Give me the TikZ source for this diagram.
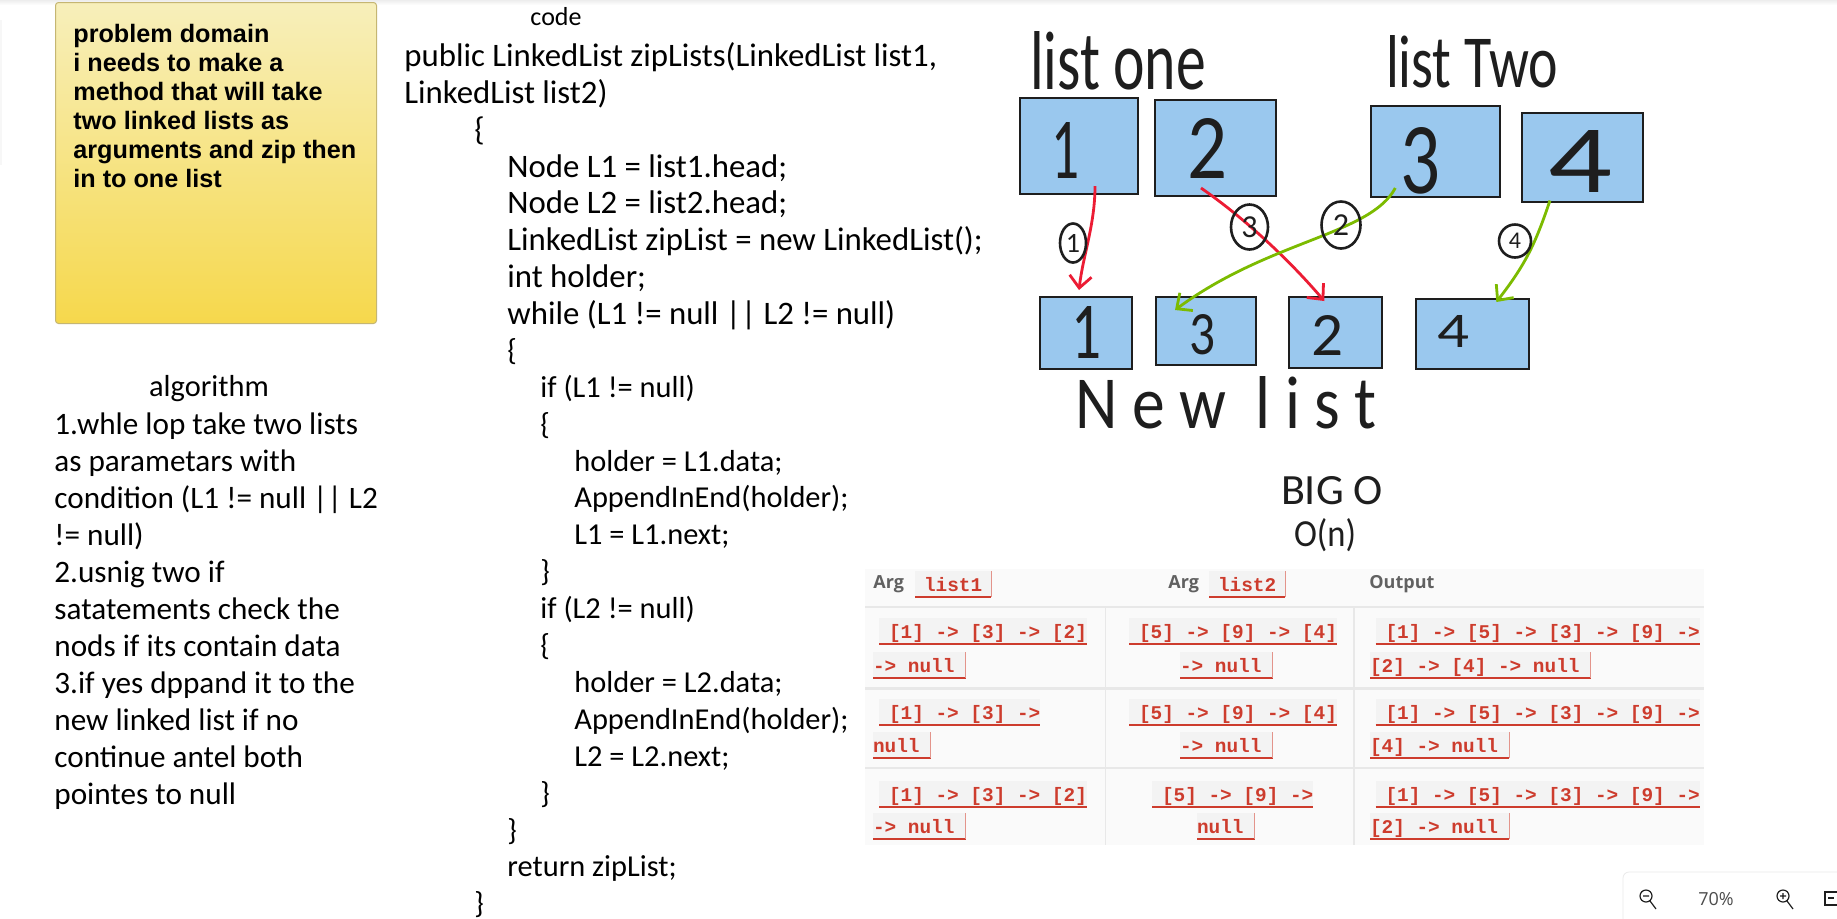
\documentclass[tikz,border=0pt]{standalone}
\usepackage{fontspec}
\usepackage{graphicx}
\usetikzlibrary{arrows.meta,shapes.geometric}
\setmainfont{Carlito}
\newfontfamily\notefont{Liberation Sans}
\newfontfamily\chipfont{Liberation Mono}
\newfontfamily\headfont{Open Sans}
\definecolor{boxblue}{RGB}{154,200,238}
\definecolor{inkblack}{RGB}{30,30,30}
\definecolor{arrowred}{RGB}{236,28,52}
\definecolor{arrowgreen}{RGB}{124,187,0}
\definecolor{chipred}{RGB}{205,60,45}
\definecolor{chipbg}{RGB}{243,243,243}
\definecolor{tablebg}{RGB}{250,250,250}
\definecolor{tableline}{RGB}{232,232,232}
\definecolor{notetop}{RGB}{247,239,187}
\definecolor{notebottom}{RGB}{246,216,76}
\tikzset{
  listbox/.style={draw=inkblack,line width=1pt,fill=boxblue,inner sep=0pt,outer sep=0pt},
  handtext/.style={text=inkblack,inner sep=0pt,outer sep=0pt},
  countmark/.style={ellipse,draw=inkblack,line width=1.3pt,inner sep=0pt,text=inkblack},
  redlink/.style={arrowred,line width=1.4pt,-{Straight Barb[length=6pt,width=11pt]}},
  greenlink/.style={arrowgreen,line width=1.4pt,-{Straight Barb[length=6pt,width=11pt]}},
  notetext/.style={anchor=north west,align=left,inner sep=0pt,text=black},
  chip/.style={anchor=north west,fill=chipbg,text=chipred,inner xsep=0pt,inner ysep=0pt,outer sep=0pt,
    font=\chipfont\bfseries\fontsize{9.7}{12}\selectfont,text height=10pt,text depth=3pt},
  chipfirst/.style={chip,execute at begin node=\hspace*{5pt}},
  chiplast/.style={chip,execute at end node=\hspace*{5.5pt}},
  chipboth/.style={chip,execute at begin node=\hspace*{4.5pt},execute at end node=\hspace*{4.5pt}},
  headlabel/.style={anchor=base west,inner sep=0pt,text=black!62,font=\headfont\bfseries\fontsize{9}{11}\selectfont}
}
\begin{document}
\begin{tikzpicture}[x=0.5pt,y=-0.5pt]
    \useasboundingbox (0,0) rectangle (1837,918);
    \fill[white] (0,0) rectangle (1837,918);
    \shade[top color=black!7,bottom color=white] (0,0) rectangle (1837,5);
    \fill[black!3] (0,20) rectangle (2,165);

    % problem box
    \node[draw=notebottom!70!black!70,line width=0.5pt,rounded corners=1.5pt,top color=notetop,bottom color=notebottom,
        minimum width=160.5pt,minimum height=160.5pt,anchor=north west,inner sep=0pt] (problembox) at (55,2) {};
    \node[notetext,font=\notefont\bfseries\fontsize{12.6}{14.45}\selectfont] (problemtext) at (73,24)
        {problem domain\\i needs to make a\\method that will take\\two linked lists as\\arguments and zip then\\in to one list};

    % algorithm
    \node[text=black,inner sep=0pt,font=\fontsize{15.2}{17}\selectfont] (algotitle) at (209,389) {algorithm};
    \node[notetext,font=\fontsize{15.6}{18.5}\selectfont] (algotext) at (54,412)
        {1.whle lop take two lists\\as parametars with\\condition (L1 != null || L2\\!= null)\\2.usnig two if\\satatements check the\\nods if its contain data\\3.if yes dppand it to the\\new linked list if no\\continue antel both\\pointes to null};

    % code
    \node[text=black,inner sep=0pt,font=\fontsize{13}{15}\selectfont] (codetitle) at (556,17) {code};
    \node[notetext,font=\fontsize{16.4}{18.45}\selectfont] (codehead) at (404,42)
        {public LinkedList zipLists(LinkedList list1,\\LinkedList list2)\\
        \hspace*{35pt}\{\\
        \hspace*{51.5pt}Node L1 = list1.head;\\
        \hspace*{51.5pt}Node L2 = list2.head;\\
        \hspace*{51.5pt}LinkedList zipList = new LinkedList();\\
        \hspace*{51.5pt}int holder;\\
        \hspace*{51.5pt}while (L1 != null || L2 != null)};
    \node[notetext,font=\fontsize{15.2}{18.45}\selectfont] (codebody) at (474,338)
        {\hspace*{16.5pt}\{\\
        \hspace*{33pt}if (L1 != null)\\
        \hspace*{33pt}\{\\
        \hspace*{50pt}holder = L1.data;\\
        \hspace*{50pt}AppendInEnd(holder);\\
        \hspace*{50pt}L1 = L1.next;\\
        \hspace*{33pt}\}\\
        \hspace*{33pt}if (L2 != null)\\
        \hspace*{33pt}\{\\
        \hspace*{50pt}holder = L2.data;\\
        \hspace*{50pt}AppendInEnd(holder);\\
        \hspace*{50pt}L2 = L2.next;\\
        \hspace*{33pt}\}\\
        \hspace*{16.5pt}\}\\
        \hspace*{16.5pt}return zipList;\\
        \}};

    % lists
    \node[handtext] (listonelabel) at (1118,61) {\resizebox{88pt}{29pt}{list one}};
    \node[handtext] (listtwolabel) at (1472,62) {\resizebox{86pt}{26pt}{list Two}};
    \node[handtext] (newlistlabel) at (1226,403) {\resizebox{150pt}{26pt}{\addfontfeature{LetterSpace=22}New list}};

    \node[listbox,minimum width=59pt,minimum height=48pt] (one) at (1079.4,146) {};
    \node[listbox,minimum width=60.5pt,minimum height=48pt] (two) at (1215.5,148) {};
    \node[listbox,minimum width=64.5pt,minimum height=45.5pt] (three) at (1435.3,151.5) {};
    \node[listbox,minimum width=60.75pt,minimum height=44.5pt] (four) at (1582.7,157.5) {};
    \node[listbox,minimum width=45.75pt,minimum height=36pt] (newone) at (1085.75,333) {};
    \node[listbox,minimum width=49.75pt,minimum height=34pt] (newthree) at (1205.75,331) {};
    \node[listbox,minimum width=46.75pt,minimum height=35.5pt] (newtwo) at (1335.25,332.5) {};
    \node[listbox,minimum width=56.65pt,minimum height=35pt] (newfour) at (1472.35,334) {};

    \node[handtext] (oneval) at (1065,150) {\resizebox{14pt}{28pt}{1}};
    \node[handtext] (twoval) at (1207,148) {\resizebox{20pt}{30pt}{2}};
    \node[handtext] (threeval) at (1420,161) {\resizebox{20pt}{33pt}{3}};
    \node[handtext] (fourval) at (1580,161) {\resizebox{32pt}{31pt}{4}};
    \node[handtext] (newoneval) at (1086,332) {\resizebox{15pt}{26pt}{1}};
    \node[handtext] (newthreeval) at (1202,335) {\resizebox{13pt}{20pt}{3}};
    \node[handtext] (newtwoval) at (1327,335) {\resizebox{16pt}{20pt}{2}};
    \node[handtext] (newfourval) at (1453,331) {\resizebox{16pt}{16pt}{4}};

    \draw[redlink] ([shift={(15.6,40)}]one.center) .. controls (1095,225) and (1083,255) .. ([shift={(-6.75,-7)}]newone.north);
    \draw[redlink] ([shift={(-14.5,40)}]two.center) .. controls (1240,215) and (1285,255) .. ([shift={(-11,4)}]newtwo.north);
    \draw[greenlink] ([shift={(-40,36.5)}]three.center) .. controls (1370,235) and (1270,240) .. ([shift={(-30.75,13)}]newthree.north);
    \draw[greenlink] ([shift={(-32.75,43)}]four.center) .. controls (1535,245) and (1525,265) .. ([shift={(24,3)}]newfour.north);

    \node[countmark,minimum width=13pt,minimum height=19.5pt,font=\fontsize{14}{16}\selectfont] (markone) at (1073,243) {1};
    \node[countmark,minimum width=18.5pt,minimum height=22.5pt,font=\fontsize{16}{18}\selectfont] (markthree) at (1249.5,227) {3};
    \node[countmark,minimum width=19.5pt,minimum height=23.5pt,font=\fontsize{16}{18}\selectfont] (marktwo) at (1341,225) {2};
    \node[countmark,minimum width=16pt,minimum height=16.5pt,font=\fontsize{12}{14}\selectfont] (markfour) at (1515,241) {4};

    % big o
    \node[handtext] (bigolabel) at (1332,491) {\resizebox{51pt}{14pt}{BIG O}};
    \node[handtext] (orderlabel) at (1325,535) {\resizebox{31pt}{14pt}{O(n)}};

    % table
    \fill[tablebg] (865,569) rectangle (1704,845);
    \draw[tableline,line width=0.75pt] (865,607) -- (1704,607);
    \draw[tableline,line width=1.5pt] (865,688) -- (1704,688);
    \draw[tableline,line width=0.75pt] (865,768) -- (1704,768);
    \draw[tableline,line width=0.75pt] (1105.5,607) -- (1105.5,845);
    \draw[tableline,line width=0.75pt] (1354,607) -- (1354,845);

    \node[headlabel] (argone) at (873,588) {Arg};
    \node[chipboth] (listonearg) at (915,571) {list1};
    \node[headlabel] (argtwo) at (1168,588) {Arg};
    \node[chipboth] (listtwoarg) at (1209,571) {list2};
    \node[headlabel] (outputlabel) at (1369,588) {Output};

    \node[chipfirst] (ra) at (879,618) {[1] -> [3] -> [2]};
    \node[chiplast] (rb) at (873,652) {-> null};
    \node[chipfirst] (rc) at (1129,618) {[5] -> [9] -> [4]};
    \node[chiplast] (rd) at (1180,652) {-> null};
    \node[chipfirst] (re) at (1375.5,618) {[1] -> [5] -> [3] -> [9] ->};
    \node[chiplast] (rf) at (1370,652) {[2] -> [4] -> null};

    \node[chipfirst] (sa) at (879,699) {[1] -> [3] ->};
    \node[chiplast] (sb) at (873,732) {null};
    \node[chipfirst] (sc) at (1129,699) {[5] -> [9] -> [4]};
    \node[chiplast] (sd) at (1180,732) {-> null};
    \node[chipfirst] (se) at (1375.5,699) {[1] -> [5] -> [3] -> [9] ->};
    \node[chiplast] (sf) at (1370,732) {[4] -> null};

    \node[chipfirst] (ta) at (879,781) {[1] -> [3] -> [2]};
    \node[chiplast] (tb) at (873,813) {-> null};
    \node[chipfirst] (tc) at (1152,781) {[5] -> [9] ->};
    \node[chiplast] (td) at (1197,813) {null};
    \node[chipfirst] (te) at (1375.5,781) {[1] -> [5] -> [3] -> [9] ->};
    \node[chiplast] (tf) at (1370,813) {[2] -> null};

    \foreach \chipname in {ra,rb,rc,rd,re,rf,sa,sb,sc,sd,se,sf,ta,tb,tc,td,te,tf,listonearg,listtwoarg}
        \draw[chipred,line width=0.6pt] (\chipname.south west) -- (\chipname.south east);
    \foreach \chipname in {rb,rd,rf,sb,sd,sf,tb,td,tf,listonearg,listtwoarg}
        \draw[chipred!55,line width=0.5pt] (\chipname.south east) -- (\chipname.north east);

    % zoom bar
    \draw[black!8,fill=white,rounded corners=3pt] (1623,919) -- (1623,872) -- (1838,872);
    \draw[inkblack,line width=0.6pt] (1646,896) circle (6) (1650,901) -- (1656,909) (1643,896) -- (1649,896);
    \node[inner sep=0pt,text=black!70,font=\headfont\fontsize{9}{11}\selectfont] (zoomvalue) at (1716,899) {70\%};
    \draw[inkblack,line width=0.6pt] (1783,896) circle (6) (1787,901) -- (1793,909) (1780,896) -- (1786,896) (1783,893) -- (1783,899);
    \draw[inkblack,line width=0.6pt] (1837,892) -- (1825,892) -- (1825,905) -- (1837,905) (1828,898) -- (1834,898);
\end{tikzpicture}
\end{document}
